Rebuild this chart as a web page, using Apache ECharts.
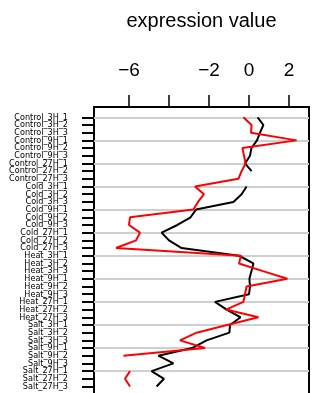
<!DOCTYPE html>
<html>
<head>
<meta charset="utf-8">
<script src="https://cdn.jsdelivr.net/npm/echarts@6/dist/echarts.min.js"></script>
<style>html,body{margin:0;padding:0;background:#fff}#c{width:313px;height:393px}</style>
</head>
<body>
<div id="c"></div>
<script>
var categories = [
  'Control_3H_1','Control_3H_2','Control_3H_3','Control_9H_1','Control_9H_2','Control_9H_3',
  'Control_27H_1','Control_27H_2','Control_27H_3',
  'Cold_3H_1','Cold_3H_2','Cold_3H_3','Cold_9H_1','Cold_9H_2','Cold_9H_3',
  'Cold_27H_1','Cold_27H_2','Cold_27H_3',
  'Heat_3H_1','Heat_3H_2','Heat_3H_3','Heat_9H_1','Heat_9H_2','Heat_9H_3',
  'Heat_27H_1','Heat_27H_2','Heat_27H_3',
  'Salt_3H_1','Salt_3H_2','Salt_3H_3','Salt_9H_1','Salt_9H_2','Salt_9H_3',
  'Salt_27H_1','Salt_27H_2','Salt_27H_3'
];
var blackValues = [
  0.43, 0.72, 0.55, 0.40, 0.12, 0.05, -0.20, 0.13, null,
  -0.12, -0.37, -0.78, -2.65, -2.92, -3.58, -4.37, -4.00, -3.37,
  -0.50, 0.22, 0.12, 0.02, 0.05, 0.00, -1.70, -1.12, -0.42,
  -0.95, -0.98, -2.12, -2.85, -4.53, -3.78, -4.87, -4.25, -4.62
];
var redValues = [
  -0.28, 0.13, 0.10, 2.38, -0.33, -0.25, -0.17, -0.37, -0.53,
  -2.70, -2.25, -2.55, -2.78, -5.95, -6.00, -5.45, -5.65, -6.65,
  -0.40, -0.50, 0.70, 1.92, -0.12, -0.20, -0.28, -1.15, 0.47,
  -1.10, -2.62, -3.45, -2.20, -6.28, null, -5.95, -6.20, -5.95
];
var xTickValues = [-6, -4, -2, 0, 2];
var xLabelValues = [-6, -2, 0, 2];

function toData(vals) {
  return vals.map(function (v, i) { return [v === null ? '-' : v, categories[i]]; });
}
function fmt(v) { return v < 0 ? '\u2212' + Math.abs(v) : String(v); }

var chart = echarts.init(document.getElementById('c'), null, {renderer: 'canvas'});
chart.setOption({
  animation: false,
  backgroundColor: '#fff',
  grid: [
    {left: 94, right: 4, top: 107, height: 290, show: true, borderColor: '#000', borderWidth: 2,
     backgroundColor: 'transparent', containLabel: false, outerBoundsMode: 'none'},
    {left: 94, right: 4, top: 117.3, height: 269.2, containLabel: false, outerBoundsMode: 'none'}
  ],
  xAxis: [
    {gridIndex: 0, type: 'value', min: -7.75, max: 3, position: 'top',
     name: 'expression value', nameLocation: 'middle', nameGap: 76,
     nameTextStyle: {fontSize: 20, color: '#000', fontFamily: 'Liberation Sans'},
     axisLine: {show: false, onZero: false},
     axisTick: {show: true, customValues: xTickValues, length: 12, lineStyle: {color: '#000', width: 1.5}},
     axisLabel: {show: true, customValues: xLabelValues, formatter: fmt, fontSize: 19, color: '#000',
                 fontFamily: 'Liberation Sans', margin: 27},
     splitLine: {show: false}},
    {gridIndex: 1, type: 'value', min: -7.75, max: 3, show: false, splitLine: {show: false},
     axisLine: {onZero: false}}
  ],
  yAxis: [
    {gridIndex: 0, type: 'value', min: 0, max: 1, show: false, splitLine: {show: false},
     axisLine: {onZero: false}},
    {gridIndex: 1, type: 'category', data: categories, inverse: true, boundaryGap: false, position: 'left',
     axisLine: {show: false, onZero: false},
     axisTick: {show: true, interval: 0, length: 12, lineStyle: {color: '#000', width: 2}},
     axisLabel: {show: true, interval: 0, fontSize: 9, color: '#000',
                 fontFamily: "'DejaVu Sans Condensed', 'Liberation Sans Narrow', sans-serif", margin: 26},
     splitLine: {show: true, interval: function (i) { return i % 3 === 0; },
                 lineStyle: {color: '#cfcfcf', width: 2}}}
  ],
  series: [
    {type: 'line', xAxisIndex: 1, yAxisIndex: 1, data: toData(blackValues), showSymbol: false,
     symbol: 'none', connectNulls: false, lineStyle: {color: '#000', width: 2}, z: 3},
    {type: 'line', xAxisIndex: 1, yAxisIndex: 1, data: toData(redValues), showSymbol: false,
     symbol: 'none', connectNulls: false, lineStyle: {color: '#ff0000', width: 2}, z: 4}
  ]
});
</script>
</body>
</html>
